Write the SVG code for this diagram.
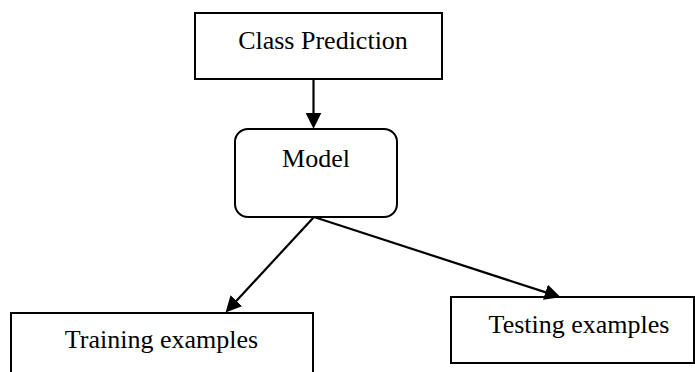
<svg xmlns="http://www.w3.org/2000/svg" width="695" height="372" viewBox="0 0 695 372">
<style>
.box{fill:#fff;stroke:#000;stroke-width:2}
.lbl{font-family:"Liberation Serif","Times New Roman",serif;font-size:26px;fill:#000;text-anchor:middle}
.edge{stroke:#000;stroke-width:2.2;fill:none;marker-end:url(#ah)}
</style>
<defs>
<marker id="ah" markerUnits="userSpaceOnUse" markerWidth="16" markerHeight="16" viewBox="0 0 15 15" refX="5" refY="7.5" orient="auto">
<path d="M0,0 L15,7.5 L0,15 z" fill="#000"/>
</marker>
</defs>
<rect width="695" height="372" fill="#fff"/>
<g id="class-prediction">
<rect class="box" x="195" y="13" width="247" height="66"/>
<text class="lbl" x="323" y="49">Class Prediction</text>
</g>
<g id="model">
<rect class="box" x="235" y="129" width="162" height="88" rx="13" ry="13"/>
<text class="lbl" x="316" y="167">Model</text>
</g>
<g id="training-examples">
<rect class="box" x="11" y="313" width="302" height="70"/>
<text class="lbl" x="161.5" y="348">Training examples</text>
</g>
<g id="testing-examples">
<rect class="box" x="451" y="297" width="243" height="66"/>
<text class="lbl" x="579" y="333">Testing examples</text>
</g>
<g id="connectors">
<line class="edge" x1="313.5" y1="79" x2="313.5" y2="118"/>
<line class="edge" x1="314" y1="217" x2="232.8" y2="304.7"/>
<line class="edge" x1="314" y1="217" x2="550.5" y2="293.9"/>
</g>
</svg>
